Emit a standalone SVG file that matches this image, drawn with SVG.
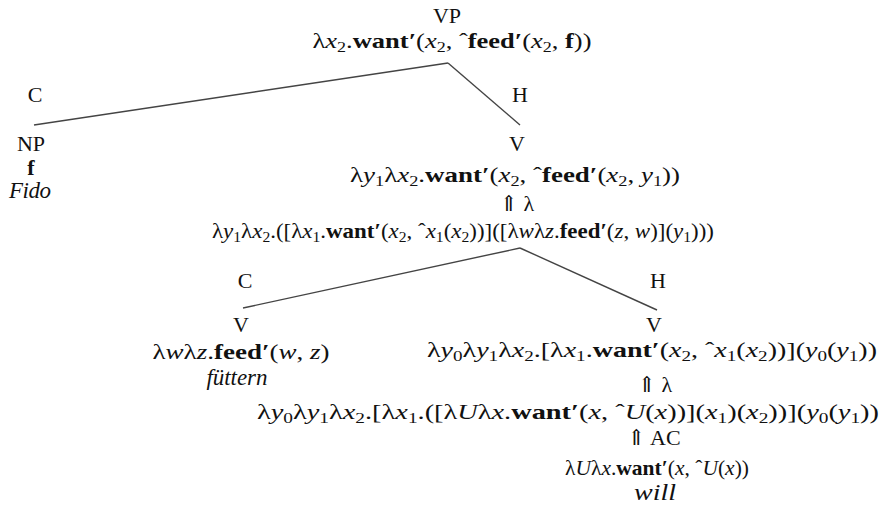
<svg xmlns="http://www.w3.org/2000/svg" width="886" height="512" viewBox="0 0 886 512">
<style>
text { font-family: "Liberation Serif", "DejaVu Serif", serif; font-size: 22px; fill: #111; }
.m { text-anchor: middle; }
.i { font-style: italic; }
.b { font-weight: bold; }
.s { font-size: 15px; }
.w { font-size: 23px; }
.e { stroke: #444; stroke-width: 1.4; fill: none; }
</style>
<rect width="886" height="512" fill="#fff"/>
<g id="connectors">
  <line class="e" x1="448" y1="63" x2="34" y2="125"/>
  <line class="e" x1="448" y1="63" x2="520" y2="125"/>
  <line class="e" x1="520" y1="248" x2="243" y2="308"/>
  <line class="e" x1="520" y1="248" x2="657" y2="310"/>
  <text class="m" x="35" y="102">C</text>
  <text class="m" x="520" y="102">H</text>
  <text class="m" x="245" y="288">C</text>
  <text class="m" x="658" y="288">H</text>
</g>
<g id="vp">
  <text class="m" x="447" y="23">VP</text>
  <text class="m" x="452" y="48" textLength="279" lengthAdjust="spacingAndGlyphs">λ<tspan class="i">x</tspan><tspan class="s" dy="4">2</tspan><tspan dy="-4">.</tspan><tspan class="b">want′</tspan>(<tspan class="i">x</tspan><tspan class="s" dy="4">2</tspan><tspan dy="-4">, ˆ</tspan><tspan class="b">feed′</tspan>(<tspan class="i">x</tspan><tspan class="s" dy="4">2</tspan><tspan dy="-4">, </tspan><tspan class="b">f</tspan>))</text>
</g>
<g id="np">
  <text class="m" x="31" y="151">NP</text>
  <text class="m b" x="31" y="175">f</text>
  <text class="m i w" x="30" y="198" textLength="42" lengthAdjust="spacing">Fido</text>
</g>
<g id="v1">
  <text class="m" x="517" y="151">V</text>
  <text class="m" x="515" y="182" textLength="330" lengthAdjust="spacingAndGlyphs">λ<tspan class="i">y</tspan><tspan class="s" dy="4">1</tspan><tspan dy="-4">λ</tspan><tspan class="i">x</tspan><tspan class="s" dy="4">2</tspan><tspan dy="-4">.</tspan><tspan class="b">want′</tspan>(<tspan class="i">x</tspan><tspan class="s" dy="4">2</tspan><tspan dy="-4">, ˆ</tspan><tspan class="b">feed′</tspan>(<tspan class="i">x</tspan><tspan class="s" dy="4">2</tspan><tspan dy="-4">, </tspan><tspan class="i">y</tspan><tspan class="s" dy="4">1</tspan><tspan dy="-4">))</tspan></text>
  <text class="m" x="517" y="211">⇑ λ</text>
  <text class="m" x="463" y="238" textLength="502" lengthAdjust="spacingAndGlyphs">λ<tspan class="i">y</tspan><tspan class="s" dy="4">1</tspan><tspan dy="-4">λ</tspan><tspan class="i">x</tspan><tspan class="s" dy="4">2</tspan><tspan dy="-4">.([λ</tspan><tspan class="i">x</tspan><tspan class="s" dy="4">1</tspan><tspan dy="-4">.</tspan><tspan class="b">want′</tspan>(<tspan class="i">x</tspan><tspan class="s" dy="4">2</tspan><tspan dy="-4">, ˆ</tspan><tspan class="i">x</tspan><tspan class="s" dy="4">1</tspan><tspan dy="-4">(</tspan><tspan class="i">x</tspan><tspan class="s" dy="4">2</tspan><tspan dy="-4">))]([λ</tspan><tspan class="i">w</tspan>λ<tspan class="i">z</tspan>.<tspan class="b">feed′</tspan>(<tspan class="i">z</tspan>, <tspan class="i">w</tspan>)](<tspan class="i">y</tspan><tspan class="s" dy="4">1</tspan><tspan dy="-4">)))</tspan></text>
</g>
<g id="v-fuettern">
  <text class="m" x="241" y="332">V</text>
  <text class="m" x="241" y="359" textLength="177" lengthAdjust="spacingAndGlyphs">λ<tspan class="i">w</tspan>λ<tspan class="i">z</tspan>.<tspan class="b">feed′</tspan>(<tspan class="i">w</tspan>, <tspan class="i">z</tspan>)</text>
  <text class="m i w" x="237" y="385" textLength="61" lengthAdjust="spacing">füttern</text>
</g>
<g id="v-will">
  <text class="m" x="654" y="332">V</text>
  <text class="m" x="652" y="357" textLength="450" lengthAdjust="spacingAndGlyphs">λ<tspan class="i">y</tspan><tspan class="s" dy="4">0</tspan><tspan dy="-4">λ</tspan><tspan class="i">y</tspan><tspan class="s" dy="4">1</tspan><tspan dy="-4">λ</tspan><tspan class="i">x</tspan><tspan class="s" dy="4">2</tspan><tspan dy="-4">.[λ</tspan><tspan class="i">x</tspan><tspan class="s" dy="4">1</tspan><tspan dy="-4">.</tspan><tspan class="b">want′</tspan>(<tspan class="i">x</tspan><tspan class="s" dy="4">2</tspan><tspan dy="-4">, ˆ</tspan><tspan class="i">x</tspan><tspan class="s" dy="4">1</tspan><tspan dy="-4">(</tspan><tspan class="i">x</tspan><tspan class="s" dy="4">2</tspan><tspan dy="-4">))](</tspan><tspan class="i">y</tspan><tspan class="s" dy="4">0</tspan><tspan dy="-4">(</tspan><tspan class="i">y</tspan><tspan class="s" dy="4">1</tspan><tspan dy="-4">))</tspan></text>
  <text class="m" x="655" y="392">⇑ λ</text>
  <text class="m" x="568" y="419" textLength="622" lengthAdjust="spacingAndGlyphs">λ<tspan class="i">y</tspan><tspan class="s" dy="4">0</tspan><tspan dy="-4">λ</tspan><tspan class="i">y</tspan><tspan class="s" dy="4">1</tspan><tspan dy="-4">λ</tspan><tspan class="i">x</tspan><tspan class="s" dy="4">2</tspan><tspan dy="-4">.[λ</tspan><tspan class="i">x</tspan><tspan class="s" dy="4">1</tspan><tspan dy="-4">.([λ</tspan><tspan class="i">U</tspan>λ<tspan class="i">x</tspan>.<tspan class="b">want′</tspan>(<tspan class="i">x</tspan>, ˆ<tspan class="i">U</tspan>(<tspan class="i">x</tspan>))](<tspan class="i">x</tspan><tspan class="s" dy="4">1</tspan><tspan dy="-4">)(</tspan><tspan class="i">x</tspan><tspan class="s" dy="4">2</tspan><tspan dy="-4">))](</tspan><tspan class="i">y</tspan><tspan class="s" dy="4">0</tspan><tspan dy="-4">(</tspan><tspan class="i">y</tspan><tspan class="s" dy="4">1</tspan><tspan dy="-4">))</tspan></text>
  <text class="m" x="654" y="445">⇑ AC</text>
  <text class="m" x="657" y="475" textLength="184" lengthAdjust="spacingAndGlyphs">λ<tspan class="i">U</tspan>λ<tspan class="i">x</tspan>.<tspan class="b">want′</tspan>(<tspan class="i">x</tspan>, ˆ<tspan class="i">U</tspan>(<tspan class="i">x</tspan>))</text>
  <text class="m i" x="655" y="500" style="font-size:24px" textLength="42" lengthAdjust="spacingAndGlyphs">will</text>
</g>
</svg>
